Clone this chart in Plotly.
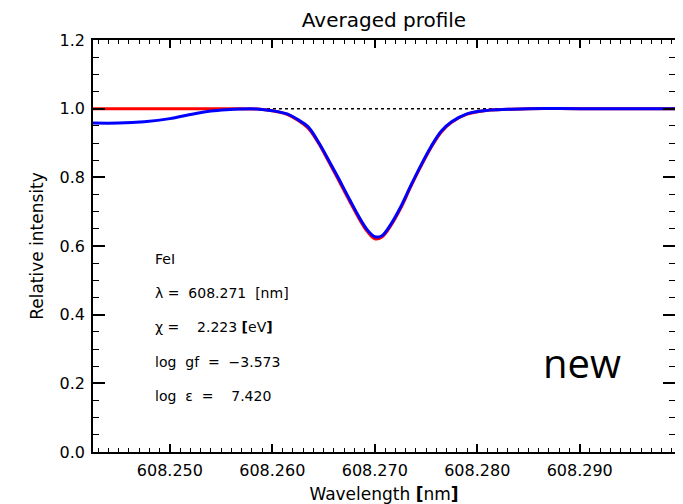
import plotly.graph_objects as go

# ---- data ----
obs_wl = [608.2425, 608.2450, 608.2475, 608.2500, 608.2520, 608.2540, 608.2555,
          608.2570, 608.2585, 608.2600, 608.2615, 608.2625, 608.2635, 608.2645,
          608.2655, 608.2665, 608.2675, 608.2685, 608.2693, 608.2700, 608.2707,
          608.2715, 608.2725, 608.2735, 608.2745, 608.2755, 608.2765, 608.2775,
          608.2790, 608.2810, 608.2830, 608.2850, 608.2900, 608.2993]
obs_int = [0.958, 0.958, 0.962, 0.971, 0.983, 0.993, 0.997,
           0.999, 0.999, 0.994, 0.984, 0.968, 0.947, 0.903,
           0.850, 0.795, 0.738, 0.683, 0.646, 0.627, 0.630,
           0.660, 0.712, 0.775, 0.835, 0.890, 0.935, 0.962,
           0.985, 0.995, 0.998, 1.000, 1.000, 1.000]

mod_wl = [608.2425, 608.2500, 608.2560, 608.2585, 608.2600, 608.2615, 608.2625,
          608.2635, 608.2645, 608.2655, 608.2665, 608.2675, 608.2685, 608.2693,
          608.2700, 608.2707, 608.2715, 608.2725, 608.2735, 608.2745, 608.2755,
          608.2765, 608.2775, 608.2790, 608.2810, 608.2830, 608.2850, 608.2900,
          608.2993]
mod_int = [1.000, 1.000, 1.000, 0.999, 0.994, 0.983, 0.966,
           0.943, 0.900, 0.846, 0.790, 0.733, 0.678, 0.641,
           0.621, 0.626, 0.656, 0.708, 0.772, 0.832, 0.887,
           0.932, 0.960, 0.984, 0.995, 0.998, 1.000, 1.000,
           1.000]

continuum = 1.0
x_range = [608.2425, 608.2993]
y_range = [0.0, 1.2]
x_ticks = [608.250, 608.260, 608.270, 608.280, 608.290]
y_ticks = [0.0, 0.2, 0.4, 0.6, 0.8, 1.0, 1.2]

info_lines = ["FeI",
              "\u03bb\u00a0=\u00a0\u00a0608.271\u00a0\u00a0[nm]",
              "\u03c7\u00a0=\u00a0\u00a0\u00a0\u00a02.223\u00a0<b>[</b>eV<b>]</b>",
              "log\u00a0\u00a0gf\u00a0\u00a0=\u00a0\u00a0\u22123.573",
              "log\u00a0\u00a0\u03b5\u00a0\u00a0=\u00a0\u00a0\u00a0\u00a07.420"]
info_y = [0.563, 0.464, 0.364, 0.2625, 0.164]

fig = go.Figure()
fig.add_trace(go.Scatter(x=mod_wl, y=mod_int, mode="lines", line_shape="spline",
                         line=dict(color="#ff0000", width=3), showlegend=False))
fig.add_trace(go.Scatter(x=obs_wl, y=obs_int, mode="lines", line_shape="spline",
                         line=dict(color="#0000ff", width=3), showlegend=False))
fig.add_hline(y=continuum, line=dict(color="black", width=1.5, dash="dot"), layer="below")

for txt, yy in zip(info_lines, info_y):
    fig.add_annotation(x=0.1026, xref="paper", y=yy, yref="y", text=txt,
                       showarrow=False, xanchor="left", yanchor="middle",
                       font=dict(family="DejaVu Sans", size=14, color="black"))

fig.add_annotation(x=0.770, xref="paper", y=0.262, yref="y", text="new",
                   showarrow=False, xanchor="left", yanchor="middle",
                   font=dict(family="Open Sans", size=40, color="black"))

tickfont = dict(family="DejaVu Sans", size=16, color="black")
common = dict(showline=True, linecolor="black", linewidth=1.5,
              ticks="inside", tickcolor="black", tickwidth=1.5,
              showgrid=False, zeroline=False, automargin=False, tickfont=tickfont)

fig.update_layout(
    width=675, height=496,
    margin=dict(l=85, r=8, t=32, b=52, autoexpand=False),
    paper_bgcolor="white", plot_bgcolor="white",
    title=dict(text="Averaged profile", x=0.5, xref="paper", xanchor="center",
               y=0.9758, yanchor="middle",
               font=dict(family="DejaVu Sans", size=20, color="black")),
    xaxis=dict(range=x_range, tickvals=x_ticks, tickformat=".3f", ticklen=8,
               ticklabelstandoff=3,
               minor=dict(dtick=0.001, tick0=608.25, ticks="inside", ticklen=4,
                          tickcolor="black", tickwidth=1.2),
               title=dict(text="Wavelength <b>[</b>nm<b>]</b>", standoff=12,
                          font=dict(family="DejaVu Sans", size=17, color="black")),
               **common),
    xaxis2=dict(range=x_range, tickvals=x_ticks, ticklen=8, showticklabels=False,
                overlaying="x", side="top", anchor="y",
                minor=dict(dtick=0.001, tick0=608.25, ticks="inside", ticklen=4,
                           tickcolor="black", tickwidth=1.2),
                **common),
    yaxis=dict(range=y_range, tickvals=y_ticks, tickformat=".1f", ticklen=12,
               ticklabelstandoff=3,
               minor=dict(dtick=0.05, tick0=0, ticks="inside", ticklen=6,
                          tickcolor="black", tickwidth=1.2),
               title=dict(text="Relative intensity", standoff=12,
                          font=dict(family="DejaVu Sans", size=17, color="black")),
               **common),
    yaxis2=dict(range=y_range, tickvals=y_ticks, ticklen=12, showticklabels=False,
                overlaying="y", side="right", anchor="x",
                minor=dict(dtick=0.05, tick0=0, ticks="inside", ticklen=6,
                           tickcolor="black", tickwidth=1.2),
                **common),
)
# invisible trace that activates the mirrored axes
fig.add_trace(go.Scatter(x=x_range, y=y_range, xaxis="x2", yaxis="y2", mode="lines",
                         line=dict(width=0), hoverinfo="skip", showlegend=False))

fig.write_html("out.html")
